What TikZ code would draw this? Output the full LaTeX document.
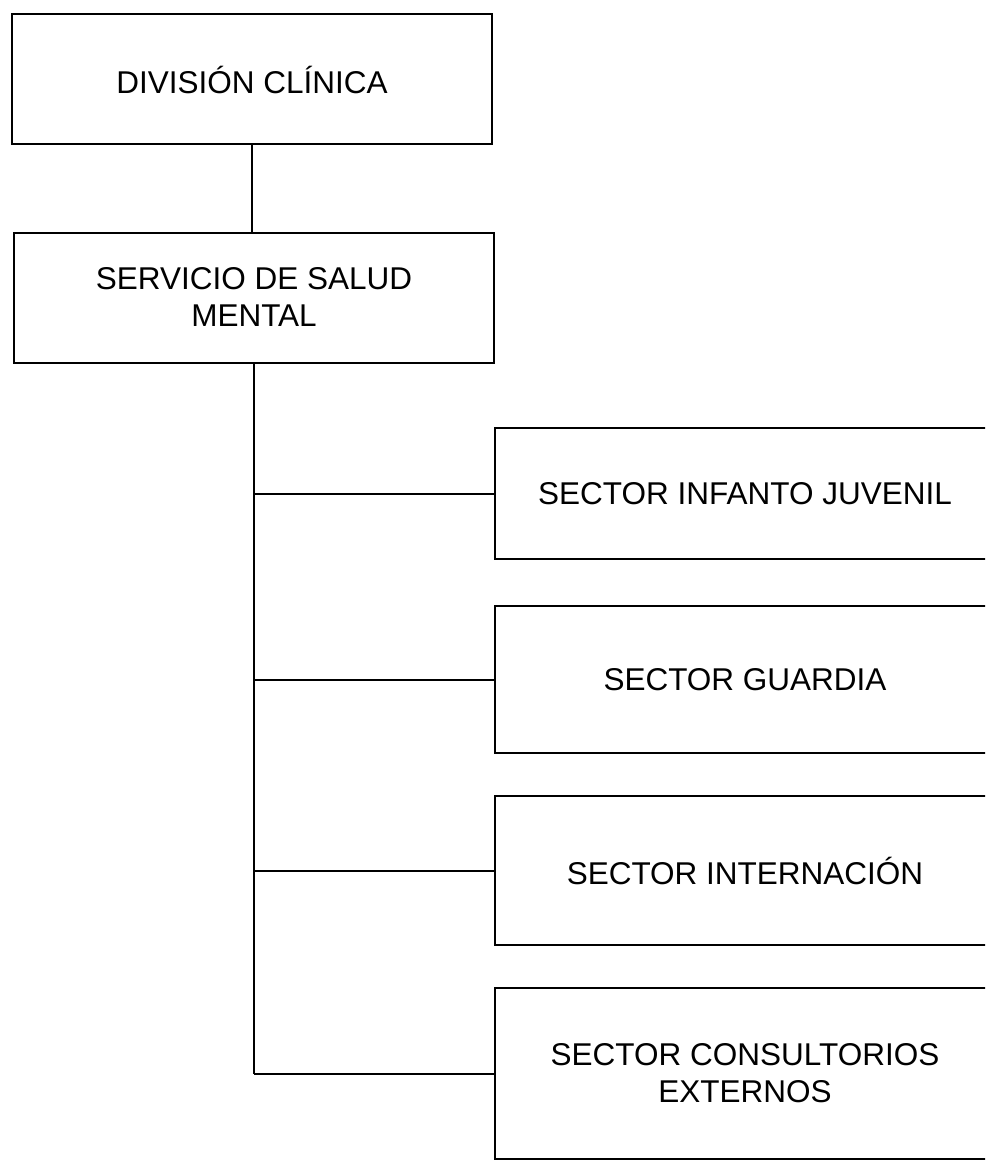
\documentclass[tikz,border=0pt]{standalone}
\usepackage{fontspec}
\setmainfont{Liberation Sans}
\usetikzlibrary{positioning}

\begin{document}
\begin{tikzpicture}[x=1pt, y=-1pt, line width=2pt,
		box/.style={draw, align=center, inner sep=0pt, font=\fontsize{31.5}{37}\selectfont},
		upper/.style={box, minimum width=480pt, minimum height=130pt},
		sector/.style={box, minimum width=500pt}]
	\useasboundingbox (0, 0) rectangle (985, 1161);
	\clip (0, 0) rectangle (985, 1161);

	\node[upper] (division) at (252, 79.5) {DIVISIÓN CLÍNICA};
	\node[upper] (servicio) at (254, 297.5) {SERVICIO DE SALUD\\MENTAL};

	\node[sector, minimum height=131pt] (infanto) at (745, 493.5) {SECTOR INFANTO JUVENIL};
	\node[sector, minimum height=147pt] (guardia) at (745, 679.5) {SECTOR GUARDIA};
	\node[sector, minimum height=149pt] (internacion) at (745, 870.5) {SECTOR INTERNACIÓN};
	\node[sector, minimum height=171pt] (consultorios) at (745, 1073.5) {SECTOR CONSULTORIOS\\EXTERNOS};

	\draw (division.south) -- (division.south |- servicio.north);
	\draw (servicio.south) -- (servicio.south |- consultorios.west);
	\foreach \s in {infanto, guardia, internacion, consultorios}
		\draw (servicio.south |- \s.west) -- (\s.west);
\end{tikzpicture}
\end{document}
